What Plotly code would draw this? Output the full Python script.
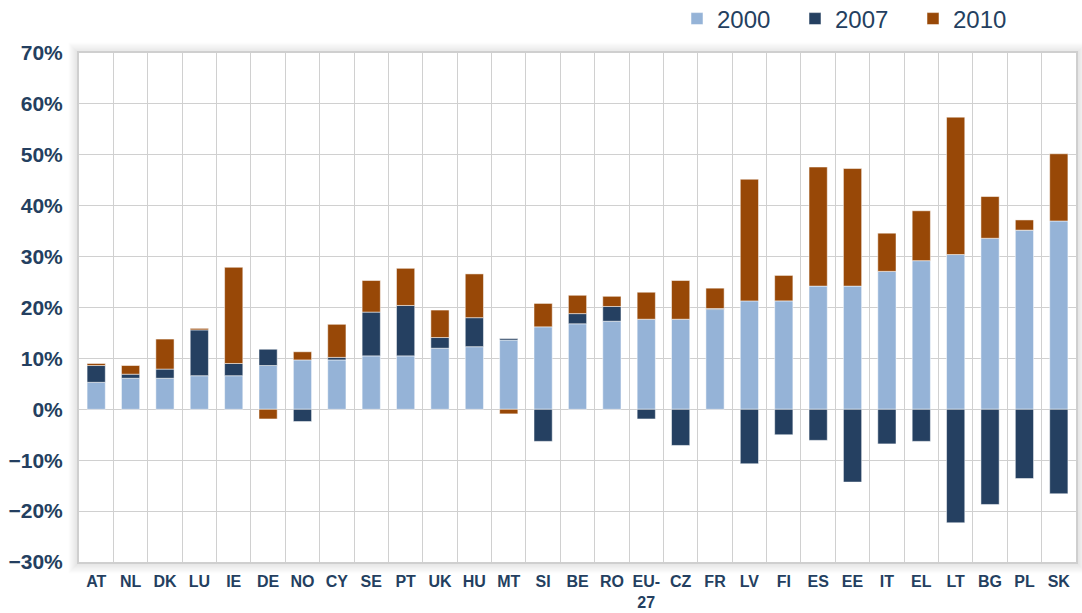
import plotly.graph_objects as go

countries = ["AT", "NL", "DK", "LU", "IE", "DE", "NO", "CY", "SE", "PT", "UK", "HU", "MT", "SI",
             "BE", "RO", "EU-<br>27", "CZ", "FR", "LV", "FI", "ES", "EE", "IT", "EL", "LT", "BG", "PL", "SK"]

# stacked increments (percentage points)
v2000 = [5.3, 6.1, 6.1, 6.6, 6.6, 8.6, 9.7, 9.7, 10.5, 10.5, 12.0, 12.3, 13.6, 16.2,
         16.8, 17.3, 17.7, 17.7, 19.6, 21.3, 21.3, 24.2, 24.2, 27.1, 29.2, 30.4, 33.6, 35.2, 37.0]
v2007 = [3.3, 0.8, 1.8, 9.0, 2.4, 3.2, -2.4, 0.5, 8.6, 9.9, 2.1, 5.7, 0.3, -6.3,
         2.0, 2.9, -1.9, -7.1, 0.2, -10.7, -5.0, -6.1, -14.3, -6.8, -6.3, -22.3, -18.7, -13.6, -16.6]
v2010 = [0.4, 1.7, 5.9, 0.3, 18.9, -1.9, 1.6, 6.5, 6.2, 7.3, 5.4, 8.6, -0.9, 4.6,
         3.6, 2.0, 5.3, 7.6, 4.0, 23.9, 5.0, 23.4, 23.1, 7.5, 9.8, 27.0, 8.2, 2.0, 13.2]

series = [("2000", v2000, "#95b3d7"), ("2007", v2007, "#254061"), ("2010", v2010, "#984807")]

fig = go.Figure()
for name, vals, col in series:
    fig.add_trace(go.Bar(
        x=countries, y=vals, name=name, width=0.53,
        marker=dict(color=col, line=dict(color="rgba(255,255,255,0.5)", width=1)),
    ))

navy = "#243f60"
W, H = 1082, 613
L, R, T, B = 79, 6, 53, 51
pw, ph = W - L - R, H - T - B

shapes = []
# soft shadow around the plot frame
for i in range(1, 11):
    a = 0.1 * (1 - (i - 1) / 10)
    dx, dy = i / pw, i / ph
    shapes.append(dict(type="rect", xref="paper", yref="paper",
                       x0=-dx, x1=1 + dx, y0=-dy - 1 / ph, y1=1 + dy,
                       line=dict(color=f"rgba(0,0,0,{a:.3f})", width=1.2),
                       fillcolor="rgba(0,0,0,0)", layer="below"))

fig.update_layout(
    width=W, height=H,
    margin=dict(l=L, r=R, t=T, b=B, pad=0),
    barmode="relative",
    paper_bgcolor="white",
    plot_bgcolor="white",
    font=dict(family="Liberation Sans, Arial, sans-serif", color=navy),
    shapes=shapes,
    legend=dict(orientation="h", xref="container", yref="container",
                x=677 / W, xanchor="left", y=1 - 19 / H, yanchor="middle",
                font=dict(size=24, color=navy), traceorder="normal",
                entrywidth=73, bgcolor="rgba(0,0,0,0)"),
    xaxis=dict(type="category", tickson="boundaries", showgrid=True, gridcolor="#d0d0d0",
               gridwidth=1.3, ticks="", showline=True, mirror=True, linecolor="#cfcfcf", linewidth=2,
               tickangle=0, automargin=False,
               tickfont=dict(size=16, color=navy, family="Liberation Sans, Arial, sans-serif"),
               ticklabelstandoff=4, range=[-0.5, len(countries) - 0.5]),
    yaxis=dict(range=[-30, 70], dtick=10, ticksuffix="%", showgrid=True, gridcolor="#d0d0d0",
               gridwidth=1.3, zeroline=False, showline=True, mirror=True, linecolor="#cfcfcf",
               linewidth=2, automargin=False,
               tickfont=dict(size=21, color=navy, family="Liberation Sans, Arial, sans-serif"),
               ticklabelstandoff=10),
)
fig.update_xaxes(tickfont_weight="bold")
fig.update_yaxes(tickfont_weight="bold")

fig.write_html("out.html", config={"displayModeBar": False},
               post_script="document.body.style.margin='0';document.body.style.overflow='hidden';")
